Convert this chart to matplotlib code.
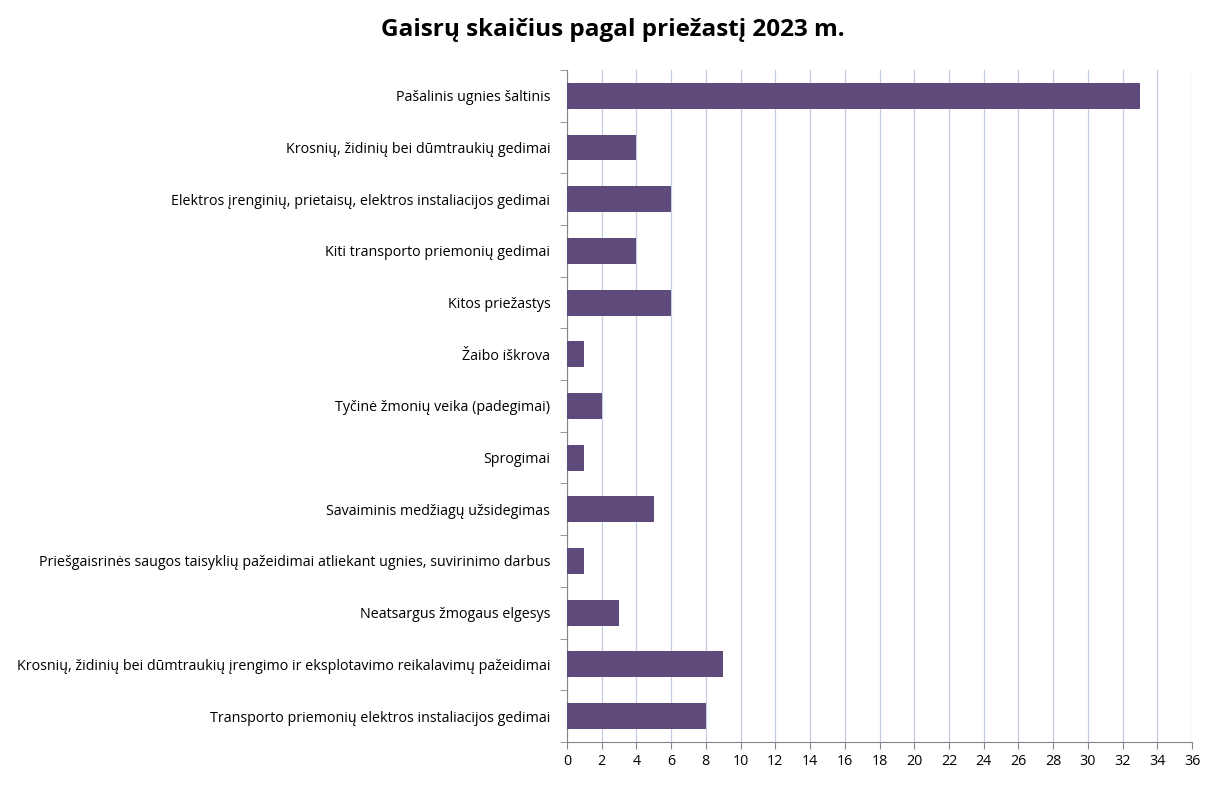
import matplotlib.pyplot as plt
import numpy as np

plt.rcParams['font.family'] = ['Open Sans', 'DejaVu Sans']

causes = [
    "Pašalinis ugnies šaltinis",
    "Krosnių, židinių bei dūmtraukių gedimai",
    "Elektros įrenginių, prietaisų, elektros instaliacijos gedimai",
    "Kiti transporto priemonių gedimai",
    "Kitos priežastys",
    "Žaibo iškrova",
    "Tyčinė žmonių veika (padegimai)",
    "Sprogimai",
    "Savaiminis medžiagų užsidegimas",
    "Priešgaisrinės saugos taisyklių pažeidimai atliekant ugnies, suvirinimo darbus",
    "Neatsargus žmogaus elgesys",
    "Krosnių, židinių bei dūmtraukių įrengimo ir eksplotavimo reikalavimų pažeidimai",
    "Transporto priemonių elektros instaliacijos gedimai",
]
counts = [33, 4, 6, 4, 6, 1, 2, 1, 5, 1, 3, 9, 8]

fig = plt.figure(figsize=(12.14, 7.96), dpi=100)
ax = fig.add_axes([0.467, 0.068, 0.515, 0.844])

y = np.arange(len(causes))[::-1]
ax.barh(y, counts, height=0.5, color="#5E4A7B", zorder=3)

ax.set_xlim(0, 36)
ax.set_xticks(range(0, 37, 2))
ax.set_ylim(-0.5, len(causes) - 0.5)
ax.set_yticks(y)
ax.set_yticklabels(causes, fontsize=10.3)
ax.tick_params(axis='y', length=0, pad=12)
ax.set_yticks(np.arange(-0.5, len(causes)), minor=True)
ax.tick_params(axis='y', which='minor', length=5, color="#868686")
ax.tick_params(axis='x', labelsize=10.3, length=5, color="#868686")
ax.grid(axis='x', color="#C5CDE0", linewidth=0.9, zorder=0)
for s in ['top', 'right']:
    ax.spines[s].set_visible(False)
for s in ['left', 'bottom']:
    ax.spines[s].set_color("#868686")

fig.suptitle("Gaisrų skaičius pagal priežastį 2023 m.", fontsize=17.5, fontweight='bold', x=0.505, y=0.978)

fig.savefig("out.png", dpi=100)
